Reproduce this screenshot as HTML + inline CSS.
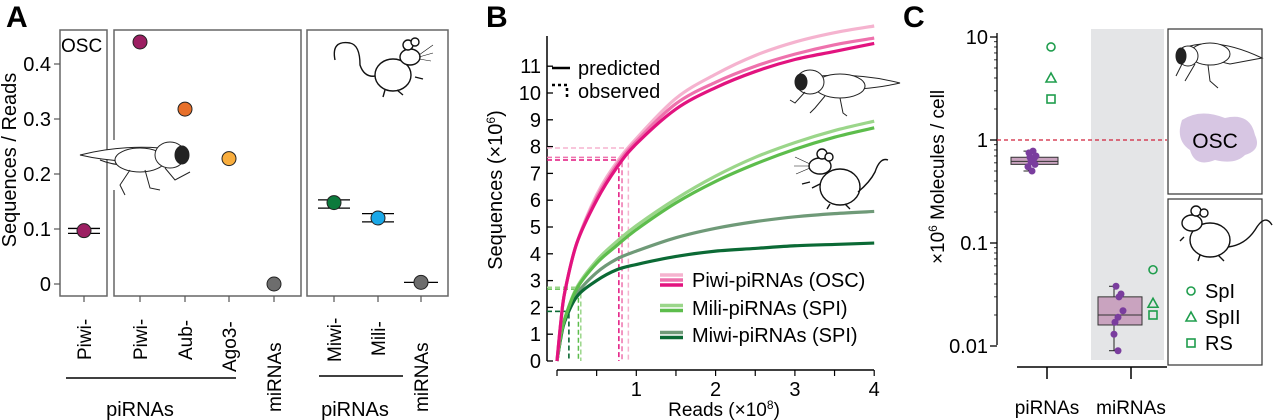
<!DOCTYPE html>
<html><head><meta charset="utf-8">
<style>
body{margin:0;background:#fff;}
svg{display:block;font-family:"Liberation Sans",Arial,sans-serif;}
</style></head>
<body>
<svg id="fig" width="1280" height="420" viewBox="0 0 1280 420">
  <text x="6" y="27" font-size="30" font-weight="bold">A</text>
  <text x="486" y="27" font-size="30" font-weight="bold">B</text>
  <text x="903" y="27" font-size="30" font-weight="bold">C</text>

  <g id="panelA">
    <rect x="60" y="30" width="47" height="266" fill="none" stroke="#666" stroke-width="1.5"/>
    <rect x="114" y="30" width="187" height="266" fill="none" stroke="#666" stroke-width="1.5"/>
    <rect x="307" y="30" width="141" height="266" fill="none" stroke="#666" stroke-width="1.5"/>
    <text x="61" y="52" font-size="19">OSC</text>
    <text transform="translate(16,160) rotate(-90)" text-anchor="middle" font-size="20">Sequences / Reads</text>
    <line x1="66" y1="378" x2="236" y2="378" stroke="#000" stroke-width="1.5"/>
    <line x1="319" y1="376" x2="403" y2="376" stroke="#000" stroke-width="1.5"/>
    <text x="140" y="416" text-anchor="middle" font-size="20">piRNAs</text>
    <text x="355" y="416" text-anchor="middle" font-size="20">piRNAs</text>
    <g transform="translate(80,140)" fill="none" stroke="#222" stroke-width="1">
      <rect x="30" y="0" width="10" height="50" fill="#fff" stroke="none"/>
      <path d="M0,15 Q40,5 80,8 L70,22 Q30,22 0,15Z" fill="#fff"/>
      <path d="M20,20 Q45,30 70,20" />
      <ellipse cx="60" cy="20" rx="25" ry="12" fill="#fff"/>
      <ellipse cx="90" cy="15" rx="15" ry="13" fill="#fff"/>
      <ellipse cx="102" cy="15" rx="7" ry="9" fill="#222"/>
      <path d="M50,30 L40,45 L45,55 M65,30 L70,48 L80,50 M85,28 L95,40 L110,32"/>
    </g>
    <g transform="translate(335,35)" fill="none" stroke="#111" stroke-width="1.4">
      <path d="M0,25 Q-4,5 15,8 Q25,10 25,30 Q30,45 45,40"/>
      <ellipse cx="58" cy="40" rx="18" ry="16" fill="#fff"/>
      <ellipse cx="75" cy="22" rx="10" ry="8" fill="#fff"/>
      <circle cx="73" cy="10" r="5" fill="#fff"/>
      <circle cx="80" cy="7" r="4" fill="#fff"/>
      <path d="M50,55 L48,62 M62,55 L68,60 M80,42 L88,44"/>
      <path d="M84,20 L98,10 M84,22 L98,18 M84,24 L96,26" stroke-width="0.6"/>
    </g>
  </g>

  <g id="panelB">
    <text transform="translate(502,190) rotate(-90)" text-anchor="middle" font-size="20">Sequences (×10<tspan dy="-7" font-size="12">6</tspan><tspan dy="7">)</tspan></text>
    <text x="724" y="416" text-anchor="middle" font-size="19">Reads (×10<tspan dy="-7" font-size="12">8</tspan><tspan dy="7">)</tspan></text>
    <line x1="552" y1="68" x2="570" y2="68" stroke="#000" stroke-width="2.5"/>
    <text x="578" y="75" font-size="20">predicted</text>
    <line x1="552" y1="85" x2="570" y2="85" stroke="#000" stroke-width="2.5" stroke-dasharray="3,3"/>
    <line x1="567" y1="88" x2="567" y2="100" stroke="#000" stroke-width="2.5" stroke-dasharray="3,3"/>
    <text x="578" y="98" font-size="20">observed</text>
    <g transform="translate(785,68)" fill="none" stroke="#222" stroke-width="1">
      <path d="M90,15 Q50,5 10,8 L20,22 Q60,22 90,15Z" fill="#fff" transform="translate(25,0)"/>
      <ellipse cx="55" cy="18" rx="25" ry="12" fill="#fff"/>
      <ellipse cx="25" cy="14" rx="14" ry="12" fill="#fff"/>
      <ellipse cx="16" cy="14" rx="6" ry="8" fill="#222"/>
      <path d="M40,28 L30,40 L25,45 M55,30 L58,45 L62,48 M20,24 L10,35 L5,32"/>
    </g>
    <g transform="translate(800,152)" fill="none" stroke="#111" stroke-width="1.4">
      <ellipse cx="40" cy="35" rx="20" ry="18" fill="#fff"/>
      <ellipse cx="20" cy="14" rx="11" ry="8" fill="#fff"/>
      <circle cx="22" cy="2" r="5" fill="#fff"/>
      <circle cx="29" cy="5" r="4" fill="#fff"/>
      <path d="M58,40 Q70,30 75,20 Q80,5 88,8"/>
      <path d="M30,52 L27,57 M45,52 L50,57 M10,30 L2,32 M20,32 L12,36"/>
      <path d="M10,12 L-5,5 M10,14 L-6,14 M10,16 L-4,22" stroke-width="0.6"/>
    </g>
  </g>

  <g id="panelC">
    <rect x="1091" y="29" width="73" height="331" fill="#e4e5e7"/>
    <text transform="translate(944,177) rotate(-90)" text-anchor="middle" font-size="19">×10<tspan dy="-7" font-size="12">6</tspan><tspan dy="7"> Molecules / cell</tspan></text>
    <line x1="1017" y1="367" x2="1167" y2="367" stroke="#000" stroke-width="1.5"/>
    <line x1="1047" y1="367" x2="1047" y2="379" stroke="#000" stroke-width="1.5"/>
    <line x1="1131" y1="367" x2="1131" y2="379" stroke="#000" stroke-width="1.5"/>
    <text x="1047" y="414" text-anchor="middle" font-size="19">piRNAs</text>
    <text x="1131" y="414" text-anchor="middle" font-size="19">miRNAs</text>
    <rect x="1168" y="29" width="94" height="165" fill="#fff" stroke="#333" stroke-width="1.2"/>
    <path d="M1182,120 Q1200,108 1225,118 Q1250,112 1255,135 Q1262,150 1245,155 Q1235,165 1215,160 Q1195,168 1190,150 Q1175,140 1182,120Z" fill="#d7c6e3"/>
    <text x="1215" y="148" text-anchor="middle" font-size="21">OSC</text>
    <g transform="translate(1170,36)" fill="none" stroke="#222" stroke-width="1">
      <path d="M20,10 Q50,2 92,22 L60,28 Q40,24 20,10Z" fill="#fff"/>
      <ellipse cx="40" cy="18" rx="20" ry="11" fill="#fff"/>
      <ellipse cx="18" cy="20" rx="10" ry="10" fill="#fff"/>
      <ellipse cx="11" cy="20" rx="5" ry="8" fill="#222"/>
      <path d="M25,28 L15,45 M38,29 L40,45 L48,52 M12,28 L6,40"/>
    </g>
    <rect x="1168" y="199" width="94" height="166" fill="#fff" stroke="#333" stroke-width="1.2"/>
    <g transform="translate(1180,205)" fill="none" stroke="#111" stroke-width="1.4">
      <ellipse cx="30" cy="35" rx="20" ry="17" fill="#fff"/>
      <ellipse cx="12" cy="18" rx="10" ry="8" fill="#fff"/>
      <circle cx="16" cy="6" r="5" fill="#fff"/>
      <circle cx="24" cy="8" r="4" fill="#fff"/>
      <path d="M48,42 Q65,40 75,25 Q85,8 92,20"/>
      <path d="M20,50 L18,56 M38,50 L44,56 M4,32 L0,36"/>
    </g>
  </g>
  <g id="dynA"></g><g id="dynB"></g><g id="dynC"></g>
</svg>
<script>
const aCategories = ["Piwi-","Piwi-","Aub-","Ago3-","miRNAs","Miwi-","Mili-","miRNAs"];
const aValues = [0.097, 0.44, 0.318, 0.228, 0.0, 0.148, 0.12, 0.003];
const aErrLow = [0.092, null, null, null, null, 0.138, 0.113, 0.003];
const aErrHigh = [0.101, null, null, null, null, 0.153, 0.128, 0.003];
const aColors = ["#9c1f62","#9c1f62","#e8702a","#f8ad3d","#6d6d6d","#0c7a3c","#1aa8e8","#6d6d6d"];
const aTicks = [0, 0.1, 0.2, 0.3, 0.4];
const aTickLabels = ["0","0.1","0.2","0.3","0.4"];

const bX = [0, 0.05, 0.1, 0.25, 0.5, 0.75, 1, 1.5, 2, 2.5, 3, 3.5, 4];
const piwiLight = [0, 1.5, 2.6, 4.4, 6.2, 7.4, 8.3, 9.8, 10.7, 11.4, 11.9, 12.25, 12.5];
const piwiMid   = [0, 1.5, 2.6, 4.4, 6.1, 7.3, 8.2, 9.6, 10.4, 11.0, 11.45, 11.8, 12.05];
const piwiDark  = [0, 1.5, 2.6, 4.4, 6.0, 7.2, 8.1, 9.4, 10.2, 10.8, 11.25, 11.55, 11.85];
const miliLight = [0, 1.0, 1.6, 2.75, 3.75, 4.45, 5.05, 6.05, 6.9, 7.6, 8.15, 8.6, 8.95];
const miliDark  = [0, 1.0, 1.6, 2.7, 3.65, 4.3, 4.9, 5.9, 6.7, 7.35, 7.9, 8.35, 8.7];
const miwiLight = [0, 0.9, 1.5, 2.5, 3.3, 3.8, 4.1, 4.6, 4.95, 5.2, 5.38, 5.5, 5.58];
const miwiDark  = [0, 0.9, 1.5, 2.4, 3.0, 3.4, 3.6, 3.9, 4.1, 4.2, 4.3, 4.35, 4.4];
const bSeriesColors = ["#f5b3cf","#ee72ad","#e2137f","#9bd68a","#5dbd4c","#6f9a78","#0b6a35"];
const obsX = [0.9, 0.82, 0.78, 0.3, 0.27, 0.15, 0.15];
const obsY = [7.95, 7.6, 7.5, 2.75, 2.68, 1.85, 1.85];
const bYTicks = [0,1,2,3,4,5,6,7,8,9,10,11];
const bXTicks = [1,2,3,4];
const bLegendLabels = ["Piwi-piRNAs (OSC)","Mili-piRNAs (SPI)","Miwi-piRNAs (SPI)"];

const cPiPoints = [0.78, 0.75, 0.7, 0.68, 0.66, 0.62, 0.58, 0.55, 0.5];
const cMiPoints = [0.038, 0.032, 0.03, 0.022, 0.019, 0.017, 0.013, 0.009];
const cPiBox = [0.5, 0.58, 0.62, 0.68, 0.78];
const cMiBox = [0.009, 0.016, 0.02, 0.03, 0.038];
const cPiStages = [8, 4, 2.5];
const cMiStages = [0.055, 0.026, 0.02];
const cStageNames = ["SpI","SpII","RS"];
const cTicks = [0.01, 0.1, 1, 10];
const cTickLabels = ["0.01","0.1","1","10"];

const NS = "http://www.w3.org/2000/svg";
function mk(parent, tag, attrs, text){const e=document.createElementNS(NS,tag);for(const k in attrs)e.setAttribute(k,attrs[k]);if(text!==undefined)e.textContent=text;parent.appendChild(e);return e;}

const gA = document.getElementById("dynA");
const aY = v => 284 - v*550;
const aXpos = [84,140,185,229,274,334,378,421];
aTicks.forEach((t,i)=>{
  mk(gA,"line",{x1:54,x2:60,y1:aY(t),y2:aY(t),stroke:"#555","stroke-width":1.2});
  const tx=mk(gA,"text",{x:51,y:aY(t)+7,"text-anchor":"end","font-size":20},aTickLabels[i]);
  
  
});
const aLabelBottom=[360,360,360,372,412,362,356,412];
aCategories.forEach((c,i)=>{
  const x=aXpos[i];
  mk(gA,"line",{x1:x,x2:x,y1:296,y2:302,stroke:"#555","stroke-width":1.2});
  const t=mk(gA,"text",{transform:`translate(${x+7},${aLabelBottom[i]}) rotate(-90)`,"font-size":19},c);
  
  
  if(aErrLow[i]!==null){
    const w = i===7?17:16;
    mk(gA,"line",{x1:x-w,x2:x+w,y1:aY(aErrLow[i]),y2:aY(aErrLow[i]),stroke:"#000","stroke-width":1.3});
    if(aErrLow[i]!==aErrHigh[i])
      mk(gA,"line",{x1:x-w,x2:x+w,y1:aY(aErrHigh[i]),y2:aY(aErrHigh[i]),stroke:"#000","stroke-width":1.3});
  }
  const p=mk(gA,"circle",{cx:x,cy:aY(aValues[i]),r:7,fill:aColors[i],stroke:"#222","stroke-width":1});
  
  
});

const gB = document.getElementById("dynB");
const bx = v => 557 + v*79.3;
const by = v => 361 - v*26.8;
mk(gB,"line",{x1:547,x2:547,y1:36,y2:361,stroke:"#000","stroke-width":1.5});
mk(gB,"line",{x1:557,x2:874,y1:370,y2:370,stroke:"#000","stroke-width":1.5});
bYTicks.forEach(t=>{
  mk(gB,"line",{x1:547,x2:553,y1:by(t),y2:by(t),stroke:"#000","stroke-width":1.3});
  const tx=mk(gB,"text",{x:541,y:by(t)+7,"text-anchor":"end","font-size":20},String(t));
  
  
});
for(let v=0;v<=4;v+=0.5){mk(gB,"line",{x1:bx(v),x2:bx(v),y1:370,y2:376,stroke:"#000","stroke-width":1.2});}
bXTicks.forEach(t=>{
  const tx=mk(gB,"text",{x:bx(t),y:396,"text-anchor":"middle","font-size":20},String(t));
  
  
});
obsX.forEach((ox,i)=>{
  mk(gB,"path",{d:`M547,${by(obsY[i])} H${bx(ox)} V361`,fill:"none",stroke:bSeriesColors[i],"stroke-width":1.5,"stroke-dasharray":"5,3"});
});
function smooth(xs,ys){
  const P=xs.map((x,i)=>[bx(x),by(ys[i])]);
  let d=`M${P[0][0]},${P[0][1]}`;
  for(let i=0;i<P.length-1;i++){
    const p0=P[Math.max(0,i-1)],p1=P[i],p2=P[i+1],p3=P[Math.min(P.length-1,i+2)];
    const c1=[p1[0]+(p2[0]-p0[0])/6,p1[1]+(p2[1]-p0[1])/6];
    const c2=[p2[0]-(p3[0]-p1[0])/6,p2[1]-(p3[1]-p1[1])/6];
    d+=` C${c1[0]},${c1[1]} ${c2[0]},${c2[1]} ${p2[0]},${p2[1]}`;
  }
  return d;
}
const bSeries=[piwiLight,piwiMid,piwiDark,miliLight,miliDark,miwiLight,miwiDark];
[5,6,3,4,0,1,2].forEach(i=>{
  const p=mk(gB,"path",{d:smooth(bX,bSeries[i]),fill:"none",stroke:bSeriesColors[i],"stroke-width":3.2});
  
  
});
const legSw=[[0,1,2],[3,4],[5,6]];
const legY=[285,313,340];
bLegendLabels.forEach((lab,i)=>{
  const n=legSw[i].length;
  legSw[i].forEach((si,k)=>{
    const y=legY[i]-(n-1)*2.5+k*5-5;
    mk(gB,"line",{x1:660,x2:683,y1:y,y2:y,stroke:bSeriesColors[si],"stroke-width":3.5});
  });
  const t=mk(gB,"text",{x:692,y:legY[i]+2,"font-size":20},lab);
  
  
});

const gC=document.getElementById("dynC");
const cy = v => 140 - Math.log10(v)*103;
mk(gC,"line",{x1:997,x2:997,y1:33,y2:345,stroke:"#000","stroke-width":1.3});
cTicks.forEach((t,i)=>{
  mk(gC,"line",{x1:990,x2:997,y1:cy(t),y2:cy(t),stroke:"#000","stroke-width":1.3});
  const tx=mk(gC,"text",{x:988,y:cy(t)+7,"text-anchor":"end","font-size":20},cTickLabels[i]);
  
  
  if(i<3){for(let m=2;m<10;m++){const v=t*m;mk(gC,"line",{x1:994,x2:997,y1:cy(v),y2:cy(v),stroke:"#000","stroke-width":0.8});}}
});
mk(gC,"line",{x1:997,x2:1167,y1:cy(1),y2:cy(1),stroke:"#d0213b","stroke-width":1.3,"stroke-dasharray":"4,3"});
function box(b,x0,x1){
  const xm=(x0+x1)/2 - 6;
  mk(gC,"line",{x1:xm,x2:xm,y1:cy(b[0]),y2:cy(b[4]),stroke:"#222","stroke-width":1});
  mk(gC,"line",{x1:xm-5,x2:xm+5,y1:cy(b[0]),y2:cy(b[0]),stroke:"#222","stroke-width":1});
  mk(gC,"line",{x1:xm-5,x2:xm+5,y1:cy(b[4]),y2:cy(b[4]),stroke:"#222","stroke-width":1});
  const r=mk(gC,"rect",{x:x0,y:cy(b[3]),width:x1-x0,height:cy(b[1])-cy(b[3]),fill:"#c9a3bf",stroke:"#333","stroke-width":1});
  
  
  mk(gC,"line",{x1:x0,x2:x1,y1:cy(b[2]),y2:cy(b[2]),stroke:"#333","stroke-width":1});
}
box(cPiBox,1011,1058);
box(cMiBox,1098,1142);
const jitPi=[1,-3,4,-2,2,-1,3,-4,0], jitMi=[-2,3,1,5,0,-3,-4,0];
cPiPoints.forEach((v,i)=>{
  const c=mk(gC,"circle",{cx:1032+jitPi[i],cy:cy(v),r:3.5,fill:"#7a3d9e"});
  
  
});
cMiPoints.forEach((v,i)=>{
  const c=mk(gC,"circle",{cx:1118+jitMi[i],cy:cy(v),r:3.5,fill:"#7a3d9e"});
  
  
});
const green="#1f9d4d";
function marker(k,x,y){
  if(k===0) return mk(gC,"circle",{cx:x,cy:y,r:4,fill:"none",stroke:green,"stroke-width":1.6});
  if(k===1) return mk(gC,"path",{d:`M${x-5},${y+4} L${x},${y-5} L${x+5},${y+4}Z`,fill:"none",stroke:green,"stroke-width":1.6});
  return mk(gC,"rect",{x:x-4,y:y-4,width:8,height:8,fill:"none",stroke:green,"stroke-width":1.6});
}
cPiStages.forEach((v,k)=>{
  const m=marker(k,1051,cy(v));
  
  
});
cMiStages.forEach((v,k)=>{
  const m=marker(k,1153,cy(v));
  
  
});
const legCY=[291,317,343];
cStageNames.forEach((n,k)=>{
  marker(k,1191,legCY[k]);
  const t=mk(gC,"text",{x:1205,y:legCY[k]+7,"font-size":20},n);
  
  
});
</script>
</body></html>
